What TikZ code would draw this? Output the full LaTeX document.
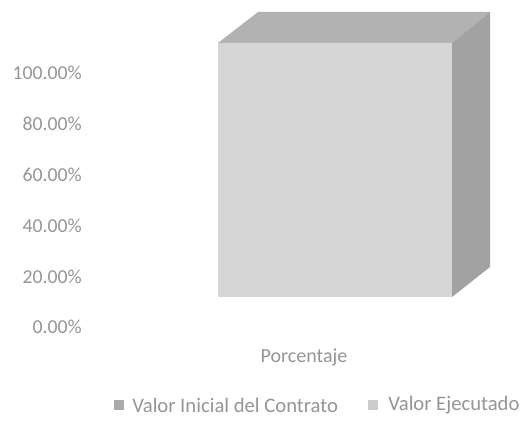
\documentclass[tikz,border=0pt]{standalone}
\usepackage{fontspec}
\setmainfont{Carlito}
\usetikzlibrary{positioning}
\definecolor{labelColor}{RGB}{150,150,150}
\definecolor{frontColor}{RGB}{214,214,214}
\definecolor{topColor}{RGB}{178,178,178}
\definecolor{sideColor}{RGB}{162,162,162}
\definecolor{inicialColor}{RGB}{170,170,170}
\definecolor{ejecutadoColor}{RGB}{205,205,205}

\begin{document}
\begin{tikzpicture}[x=0.75pt,y=-0.75pt,
tickLabel/.style={
    anchor=east, inner sep=0pt, text=labelColor,
    font=\fontsize{14.8}{17}\selectfont},
legendLabel/.style={
    anchor=west, inner sep=0pt, text=labelColor,
    font=\fontsize{15.5}{18}\selectfont},
legendBox/.style={
    minimum size=7pt, inner sep=0pt}
]

\clip (0,0) rectangle (520,424);
\fill[white] (0,0) rectangle (520,424);

% eje vertical
\foreach \val/\ypos [count=\i] in {0.00/327, 20.00/277, 40.00/226,
                                   60.00/175, 80.00/124, 100.00/73}
    \node[tickLabel] (tick\i) at (82,\ypos) {\val\%};

% barra 3d
\fill[frontColor] (218,43) rectangle (452,297);
\fill[topColor] (218,43)--(258,12)--(490,12)--(452,43)--cycle;
\fill[sideColor] (452,43)--(490,12)--(490,267)--(452,297)--cycle;

\node[text=labelColor, font=\fontsize{15}{18}\selectfont, inner sep=0pt]
      (catLabel) at (304,357) {Porcentaje};

% leyenda
\node[legendBox, fill=inicialColor] (boxInicial) at (119,405) {};
\node[legendLabel] (labelInicial) at (132,405) {Valor Inicial del Contrato};
\node[legendBox, fill=ejecutadoColor] (boxEjecutado) at (373,405) {};
\node[legendLabel] (labelEjecutado) at (388,405) {Valor Ejecutado};

\end{tikzpicture}
\end{document}
